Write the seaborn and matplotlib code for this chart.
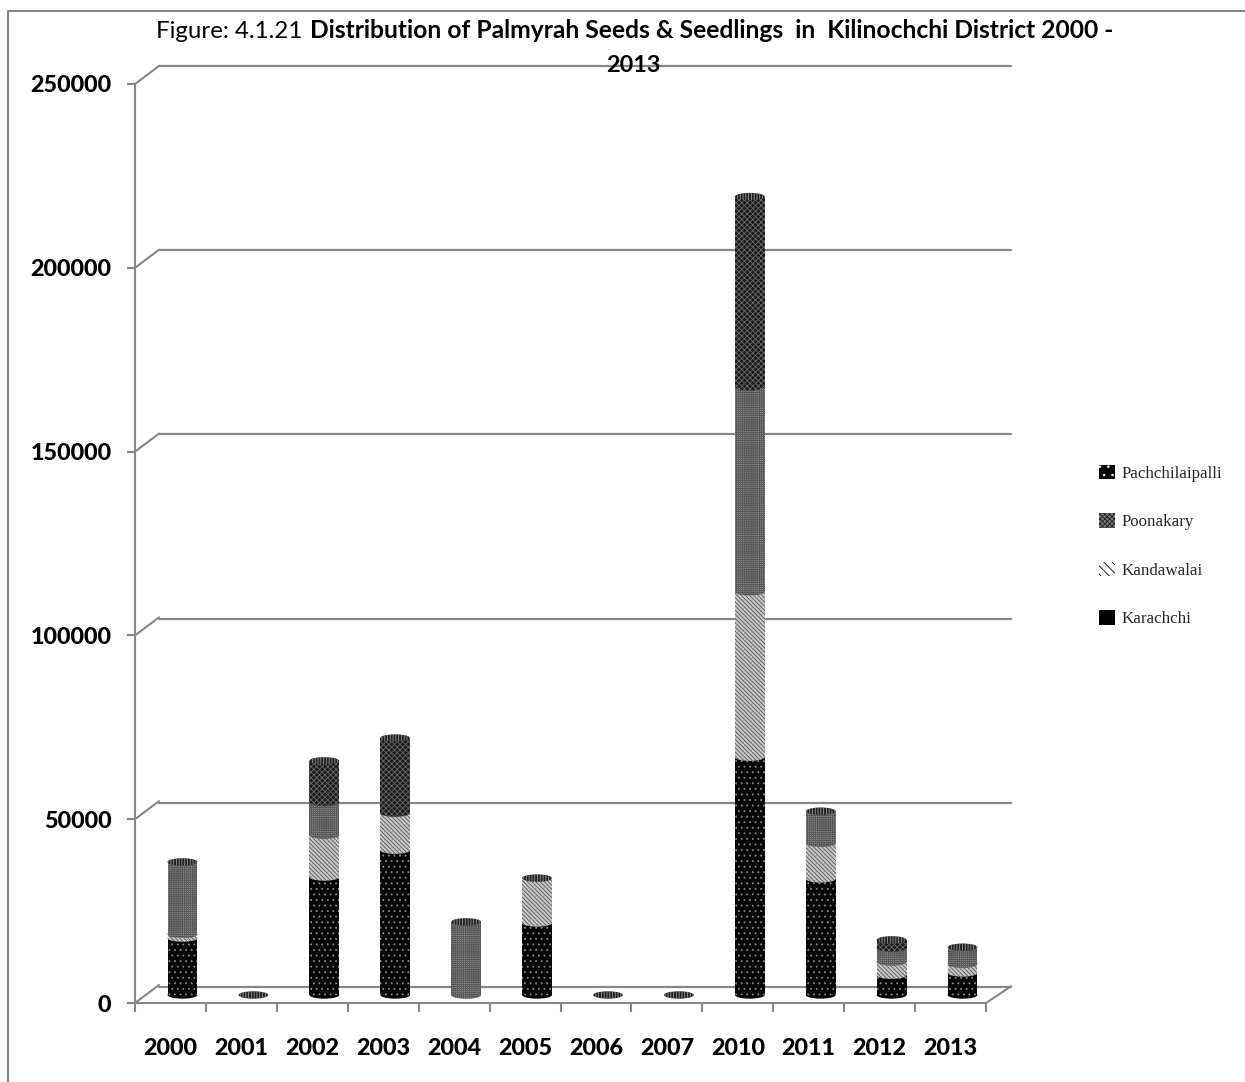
import numpy as np
import matplotlib
matplotlib.use('Agg')
import matplotlib.pyplot as plt
from matplotlib.font_manager import FontProperties
from matplotlib.lines import Line2D
from matplotlib.patches import Ellipse, Patch
import seaborn as sns

years = ['2000', '2001', '2002', '2003', '2004', '2005', '2006', '2007', '2010', '2011', '2012', '2013']
karachchi = [15500, 0, 32100, 39400, 0, 19600, 0, 0, 64700, 31600, 5400, 6000]
kandawalai = [1000, 0, 11400, 10100, 0, 12200, 0, 0, 45000, 9700, 3600, 2400]
poonakary = [19700, 0, 9000, 0, 19900, 0, 0, 0, 55800, 8700, 3800, 4600]
pachchilaipalli = [0, 0, 11200, 20400, 0, 0, 0, 0, 51700, 0, 2200, 0]
y_ticks = [0, 50000, 100000, 150000, 200000, 250000]

series = ['Karachchi', 'Kandawalai', 'Poonakary', 'Pachchilaipalli']
values = [karachchi, kandawalai, poonakary, pachchilaipalli]
faces = ['#050505', '#c8c8c8', '#8a8a8a', '#1c1c1c']
styles = [
    dict(edgecolor='#8a8a8a', hatch='...'),
    dict(edgecolor='#555555', hatch='\\\\\\\\\\\\\\\\'),
    dict(edgecolor='#555555', hatch='++++++++'),
    dict(edgecolor='#6a6a6a', hatch='xxxxxx'),
]
# the legend swatches look different from the bars
legend_faces = ['#000000', '#ffffff', '#777777', '#000000']
legend_styles = [
    dict(edgecolor='#000000', hatch=None),
    dict(edgecolor='#000000', hatch='\\\\\\\\'),
    dict(edgecolor='#222222', hatch='xxxxxxx'),
    dict(edgecolor='#ffffff', hatch='..'),
]

W, H = 1245, 1082
GREY = '#868686'
sns.set_theme(style='white')
plt.rcParams['font.family'] = ['Lato', 'DejaVu Sans']
plt.rcParams['hatch.linewidth'] = 0.6


def box(left, top, right, bottom):
    return [left / W, 1 - bottom / H, (right - left) / W, (bottom - top) / H]


fig = plt.figure(figsize=(W / 100, H / 100), dpi=100, facecolor='white')

# back wall with the grid lines
wall = fig.add_axes(box(159, 66, 1011, 987), facecolor='none')
wall.set_xlim(-0.5, 11.5)
wall.set_ylim(0, 250000)
wall.set_yticks(y_ticks)
wall.set_xticks([])
wall.grid(axis='y', color=GREY, lw=1.6)
for line in wall.get_ygridlines():
    line.set_clip_on(False)
sns.despine(ax=wall, left=True, bottom=True)
wall.tick_params(left=False, labelleft=False)
wall.set_zorder(1)

# front axis with ticks and labels
ax = fig.add_axes(box(135, 84, 986, 1003), facecolor='none')
ax.set_xlim(-0.5, 11.5)
ax.set_ylim(0, 250000)
ax.set_yticks(y_ticks, labels=[str(v) for v in y_ticks])
ax.set_xticks(np.arange(-0.5, 12, 1))
ax.set_xticklabels([])
ax.set_xticks(np.arange(12), labels=years, minor=True)
ax.tick_params(axis='x', which='major', bottom=True, length=6.5, width=1.5, color=GREY)
ax.tick_params(axis='x', which='minor', bottom=False, pad=21)
ax.tick_params(axis='y', left=True, length=6, width=1.5, color=GREY, pad=11)
tick_font = FontProperties(family='Lato', weight='black', size=16.8)
for lab in ax.get_yticklabels() + ax.get_xticklabels(minor=True):
    lab.set_fontproperties(tick_font)
    lab.set_color('black')
sns.despine(ax=ax)
for side in ['left', 'bottom']:
    ax.spines[side].set_color(GREY)
    ax.spines[side].set_linewidth(1.5)
for v in y_ticks:
    ax.annotate('', xy=(-0.5, v), xytext=(17.3, 13), textcoords='offset points', annotation_clip=False,
                arrowprops=dict(arrowstyle='-', color=GREY, lw=1.5, shrinkA=0, shrinkB=0))
ax.annotate('', xy=(11.5, 0), xytext=(18, 12), textcoords='offset points', annotation_clip=False,
            arrowprops=dict(arrowstyle='-', color=GREY, lw=1.5, shrinkA=0, shrinkB=0))
ax.set_zorder(2)

# cylinders, a bit behind the front axis
bars = fig.add_axes(box(147, 76, 998, 995), facecolor='none')
bar_w = 0.42
cap_h = 2000
bottoms = np.zeros(len(years))
for i, name in enumerate(series):
    vals = np.array(values[i])
    sns.barplot(x=years, y=vals, bottom=bottoms, width=bar_w, saturation=1, linewidth=0, color=faces[i],
                ax=bars, zorder=3 + i, **styles[i])
    for j, v in enumerate(vals):
        if v > 0:
            bars.add_patch(Ellipse((j, bottoms[j]), bar_w, cap_h, facecolor=faces[i], linewidth=0, clip_on=False,
                                   zorder=3 + i, **styles[i]))
    bottoms = bottoms + vals
for j, top in enumerate(bottoms):
    bars.add_patch(Ellipse((j, top), bar_w, cap_h, facecolor='#222222', edgecolor='#999999',
                           hatch='||||||', linewidth=0, clip_on=False, zorder=9))
bars.set_xlim(-0.5, 11.5)
bars.set_ylim(0, 250000)
bars.axis('off')
bars.set_zorder(3)

handles = [Patch(label=series[i], facecolor=legend_faces[i], linewidth=0, **legend_styles[i]) for i in [3, 2, 1, 0]]
fig.legend(handles=handles, loc='center left', bbox_to_anchor=(1084 / W, 1 - 546 / H), frameon=False,
           prop=dict(family='Liberation Serif', size=12.2), handlelength=0.95, handleheight=0.95,
           labelspacing=1.85, handletextpad=0.35)

# chart title, the first part is not bold
fig.text(156 / W, 1 - 31 / H, 'Figure: 4.1.21 ', fontsize=17.3, color='black', va='center')
fig.text(310 / W, 1 - 31 / H, 'Distribution of Palmyrah Seeds & Seedlings  in  Kilinochchi District 2000 -',
         fontsize=17.7, fontweight='bold', color='black', va='center')
fig.text(633 / W, 1 - 65 / H, '2013', fontsize=16.8, fontweight='bold', color='black', ha='center', va='center')

# frame around the chart, only top and left show
fig.add_artist(Line2D([8 / W, 8 / W, 1], [0, 1 - 11 / H, 1 - 11 / H], color=GREY, lw=1.5))

fig.savefig('out.png', dpi=100)
